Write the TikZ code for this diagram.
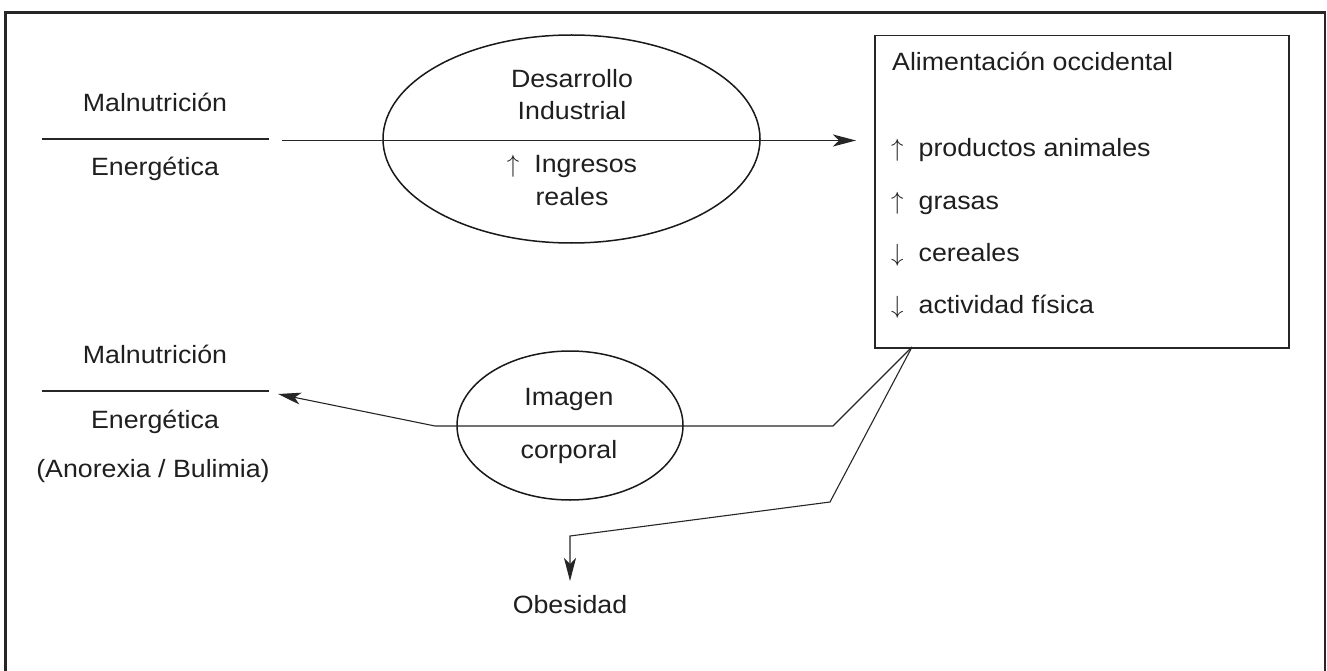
\documentclass[tikz,border=0pt]{standalone}
\usepackage{fontspec}
\setmainfont[FakeStretch=1.07]{Liberation Sans}
\usetikzlibrary{arrows.meta,shapes.geometric}
\newcommand{\myup}{{\fontsize{30}{30}\selectfont$\uparrow$}}
\newcommand{\mydown}{{\fontsize{30}{30}\selectfont$\downarrow$}}
\begin{document}
\begin{tikzpicture}[x=1pt,y=-1pt,
  txt/.style={inner sep=0pt,anchor=base,font=\fontsize{25}{30}\selectfont,text=black!88},
  ltxt/.style={inner sep=0pt,anchor=base west,font=\fontsize{25}{30}\selectfont,text=black!88},
  ell/.style={draw,ellipse,inner sep=0pt,line width=1.5pt,black!90},
  conn/.style={line width=1.1pt,black!85},
  arr/.style={conn,-{Stealth[length=23pt,width=12pt,inset=6pt]}},
  rule/.style={line width=1.1pt,black!85}]
\useasboundingbox (0,0) rectangle (1327,671);
% outer frame
\draw[line width=2.4pt,black!85] (5.5,700) -- (5.5,12.5) -- (1325,12.5) -- (1325,700);

% top-left label
\node[txt] (m1) at (155,112) {Malnutrición};
\node[txt] (e1) at (155,176) {Energética};
\draw[rule] (42,139) -- (269,139);

% ellipse 1
\node[ell,minimum width=377pt,minimum height=208pt] (el1) at (571.5,139) {};
\node[txt] (d1) at (572,88) {Desarrollo};
\node[txt] (d2) at (572,120) {Industrial};
\node[txt] (d3) at (572,173) {\myup\hspace{15pt}Ingresos};
\node[txt] (d4) at (572,205) {reales};

% box
\node[draw,line width=1.5pt,black!85,inner sep=0pt,minimum width=414pt,minimum height=312pt,anchor=north west] (box) at (874,35) {};
\node[ltxt] (b0) at (892,71) {Alimentación occidental};
\node[ltxt] (b1) at (891,157) {\myup\hspace{15pt}productos animales};
\node[ltxt] (b2) at (891,209) {\myup\hspace{15pt}grasas};
\node[ltxt] (b3) at (891,261) {\mydown\hspace{15pt}cereales};
\node[ltxt] (b4) at (891,313) {\mydown\hspace{15pt}actividad física};

% main arrow
\coordinate (a0) at (282,140.5);
\coordinate (a1) at (856,140.5);
\draw[arr] (a0) -- (a1);

% lower-left label
\node[txt] (m2) at (155,363) {Malnutrición};
\node[txt] (e2) at (155,428) {Energética};
\node[txt] (ab) at (153,477) {(Anorexia / Bulimia)};
\draw[rule] (42,391) -- (269,391);

% ellipse 2
\node[ell,minimum width=226pt,minimum height=149pt] (el2) at (570,425.5) {};
\node[txt] (i1) at (569,405) {Imagen};
\node[txt] (i2) at (569,458) {corporal};

% obesity label
\node[txt] (ob) at (570,613) {Obesidad};

% connectors from box
\coordinate (j) at (912,347);
\coordinate (k1) at (833,426);
\coordinate (k2) at (435,426);
\coordinate (k3) at (278,394);
\draw[arr] (j) -- (k1) -- (k2) -- (k3);
\coordinate (o1) at (830,502);
\coordinate (o2) at (570,536);
\coordinate (o3) at (570,581);
\draw[arr] (j) -- (o1) -- (o2) -- (o3);
\end{tikzpicture}
\end{document}
